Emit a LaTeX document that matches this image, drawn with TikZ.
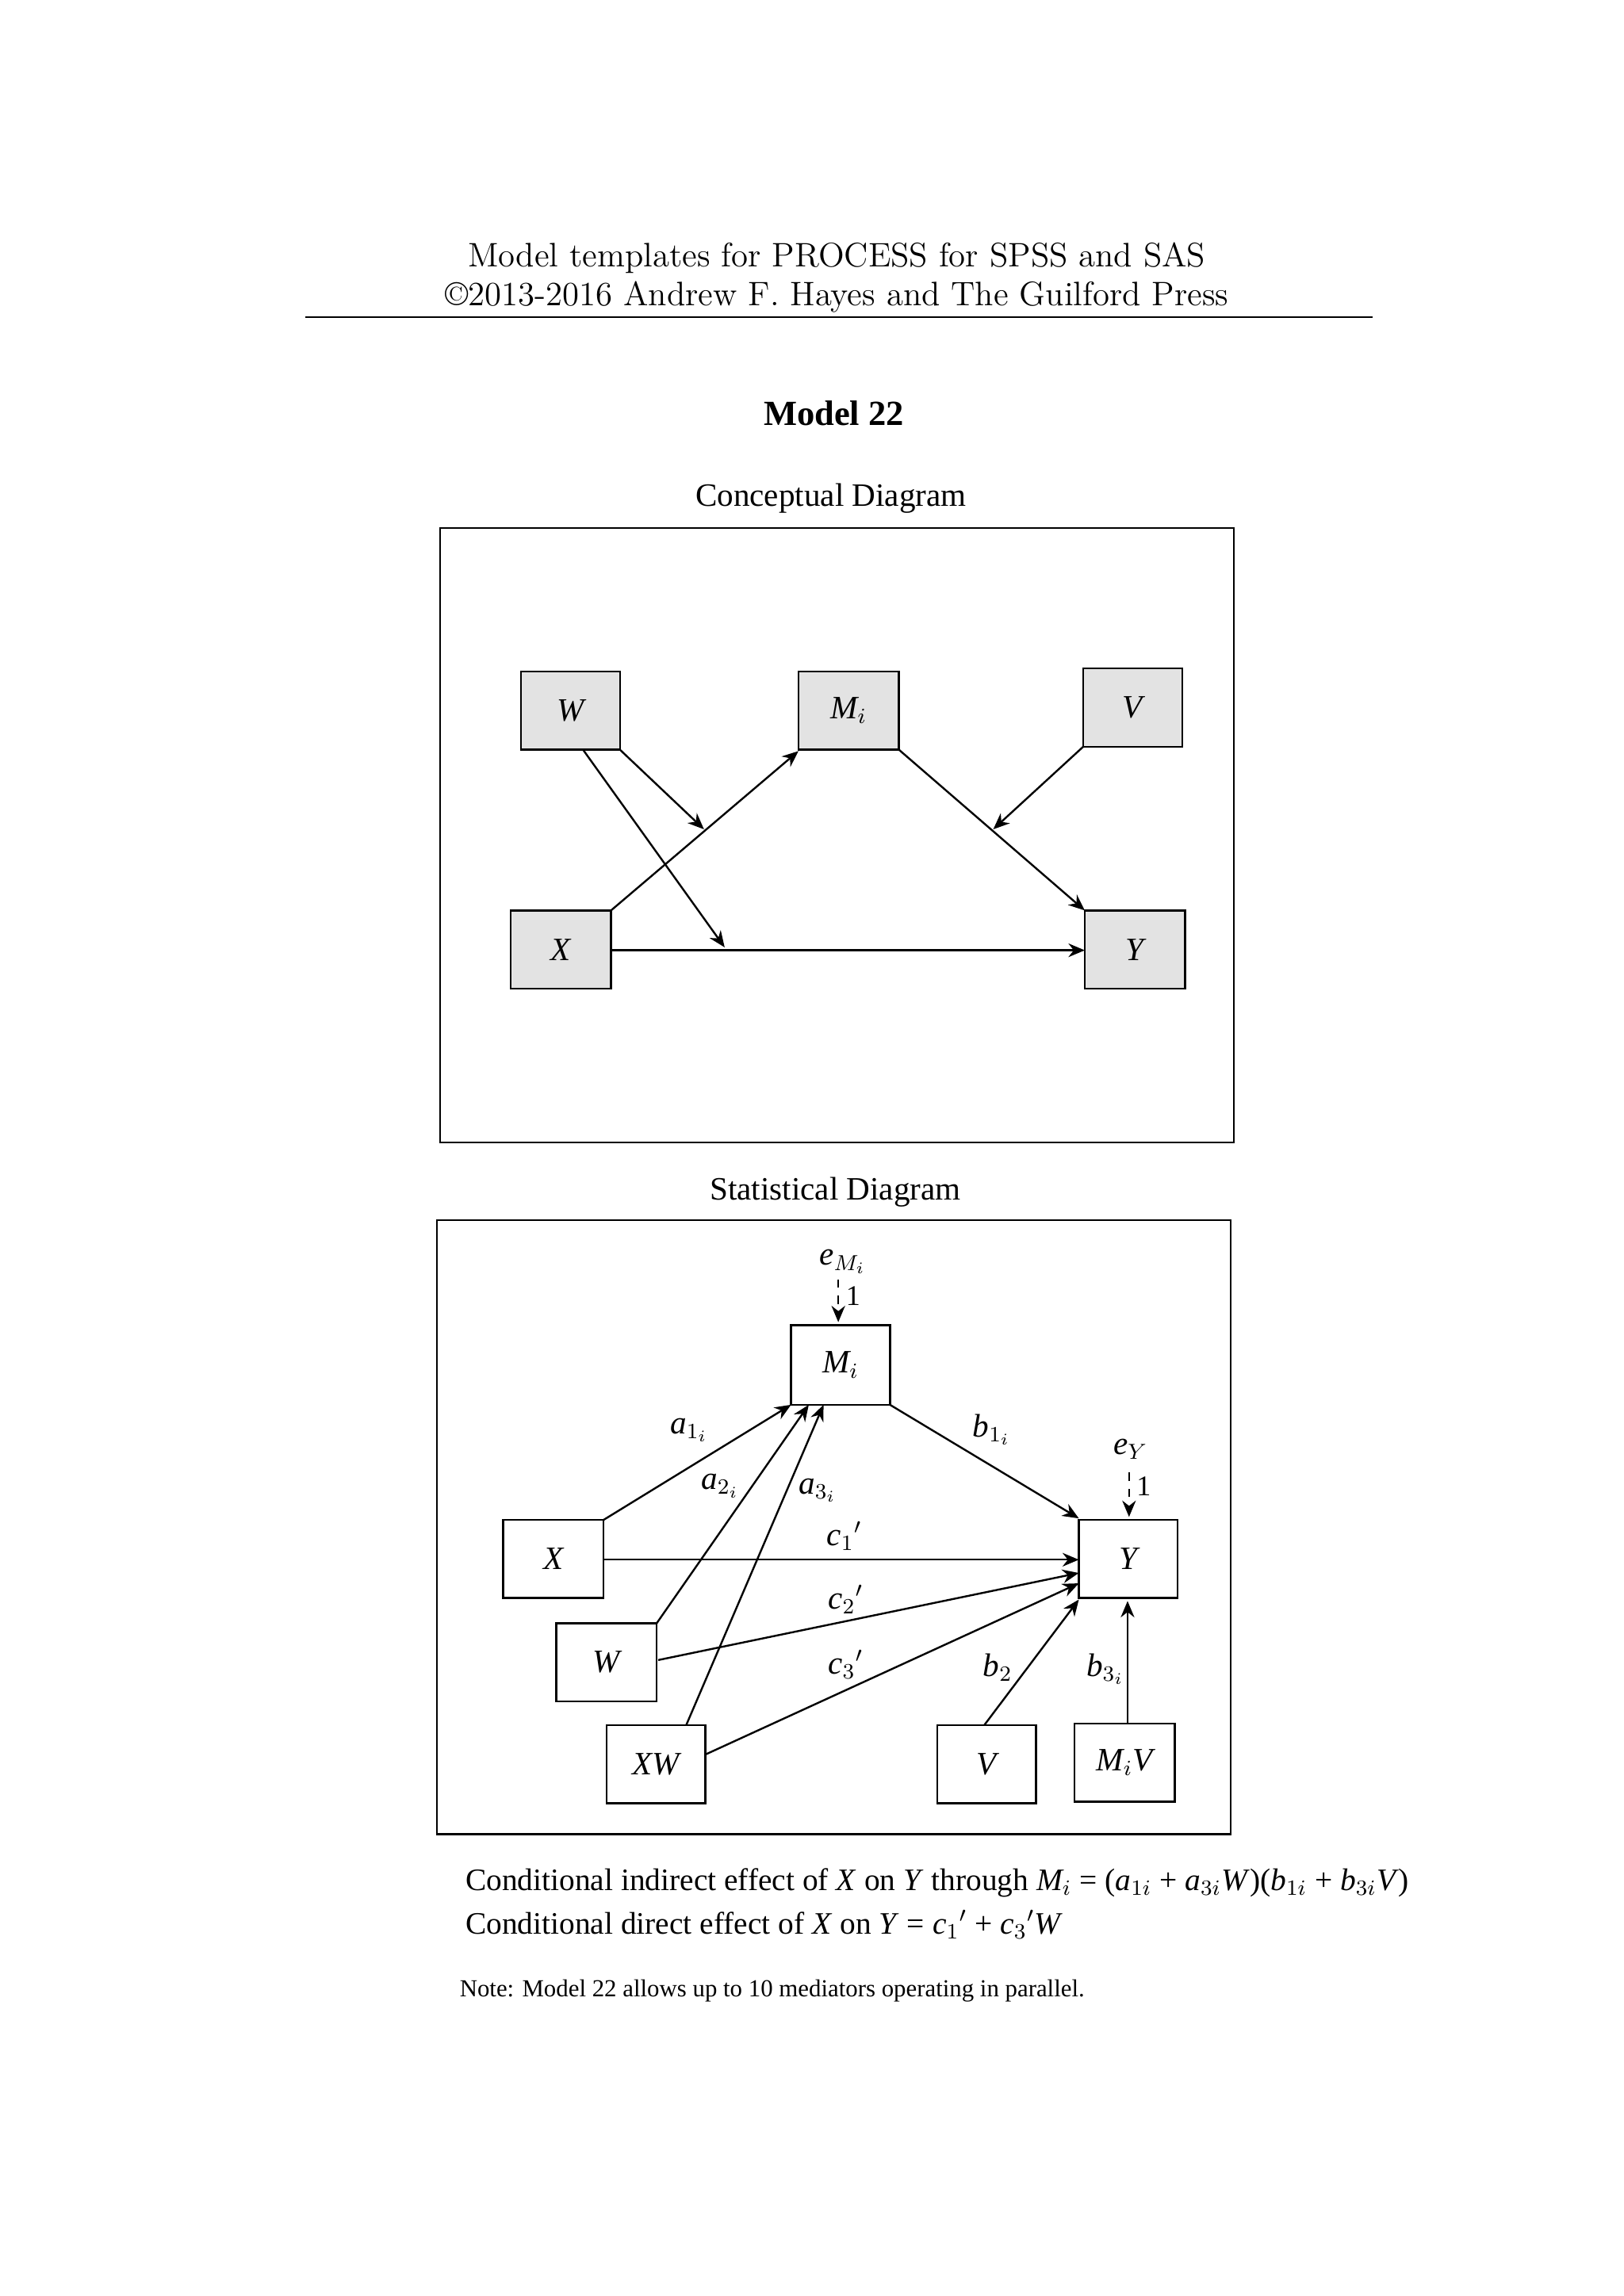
\documentclass[tikz,border=0pt]{standalone}
\usepackage{fontspec}
\setmainfont{Liberation Serif}
\newfontfamily\lmr{Latin Modern Roman}
\usetikzlibrary{arrows.meta}
\begin{document}
\begin{tikzpicture}[x=0.01909cm,y=-0.01909cm,
  box/.style={draw,line width=0.7pt,minimum width=67\pgflinewidth,inner sep=0pt},
  cb/.style={draw,line width=0.7pt,fill=black!11},
  ln/.style={line width=0.7pt},
  ar/.style={line width=0.7pt,-{Stealth[length=6pt,width=5pt]}},
  lab/.style={font=\fontsize{12}{14}\selectfont\itshape},
  sl/.style={font=\fontsize{10.5}{12}\selectfont}]
\useasboundingbox (0,0) rectangle (1100,1556);
% header
\node[font=\lmr\fontsize{12.5}{15}\selectfont] (h1) at (567,175) {Model templates for PROCESS for SPSS and SAS};
\node[font=\lmr\fontsize{12.5}{15}\selectfont] (h2) at (567,201) {\textcopyright2013-2016 Andrew F. Hayes and The Guilford Press};
\draw[line width=0.5pt] (207,215) -- (930,215);
\node[font=\fontsize{13}{15}\selectfont\bfseries] (t) at (565,280) {Model 22};
\node[font=\fontsize{12}{14}\selectfont] (cd) at (563,338) {Conceptual Diagram};
\node[font=\fontsize{12}{14}\selectfont] (sd) at (566,808) {Statistical Diagram};
% conceptual
\draw[line width=0.6pt] (298,358) rectangle (836,774);
\draw[cb] (353,455) rectangle (420,508); \node[lab] (cW) at (386.5,481.5) {W};
\draw[cb] (541,455) rectangle (609,508); \node[lab] (cM) at (575,481.5) {M$_i$};
\draw[cb] (734,453) rectangle (801,506); \node[lab] (cV) at (767.5,479.5) {V};
\draw[cb] (346,617) rectangle (414,670); \node[lab] (cX) at (380,643.5) {X};
\draw[cb] (735,617) rectangle (803,670); \node[lab] (cY) at (769,643.5) {Y};
\coordinate (xa) at (414,617); \coordinate (ma) at (541,509);
\coordinate (wa) at (420,508); \coordinate (wt) at (477,562);
\coordinate (wb) at (395,508); \coordinate (wbt) at (491,642);
\coordinate (va) at (734,506); \coordinate (vt) at (673,562);
\coordinate (mb) at (609,508); \coordinate (ya) at (735,617);
\coordinate (xb) at (414,644); \coordinate (yb) at (735,644);
\draw[ar] (xa) -- (ma);
\draw[ar] (wa) -- (wt);
\draw[ar] (wb) -- (wbt);
\draw[ar] (va) -- (vt);
\draw[ar] (mb) -- (ya);
\draw[ar] (xb) -- (yb);
% statistical
\draw[line width=0.6pt] (296,827) rectangle (834,1243);
\draw[ln] (536,898) rectangle (603,952); \node[lab] (sM) at (569.5,925) {M$_i$};
\draw[ln] (731,1030) rectangle (798,1083); \node[lab] (sY) at (764.5,1056.5) {Y};
\draw[ln] (341,1030) rectangle (409,1083); \node[lab] (sX) at (375,1056.5) {X};
\draw[ln] (377,1100) rectangle (445,1153); \node[lab] (sW) at (411,1126.5) {W};
\draw[ln] (411,1169) rectangle (478,1222); \node[lab] (sXW) at (444.5,1195.5) {XW};
\draw[ln] (635,1169) rectangle (702,1222); \node[lab] (sV) at (668.5,1195.5) {V};
\draw[ln] (728,1168) rectangle (796,1221); \node[lab] (sMV) at (762,1194.5) {M$_i$V};
\node[lab] (eM) at (571,855) {e$_{M_i}$};
\coordinate (eMa) at (568,867); \coordinate (eMb) at (568,896);
\draw[ar,dashed] (eMa) -- (eMb);
\node[sl] (o1) at (578,878) {1};
\node[lab] (eY) at (766,982) {e$_Y$};
\coordinate (eYa) at (765,998); \coordinate (eYb) at (765,1028);
\draw[ar,dashed] (eYa) -- (eYb);
\node[sl] (o2) at (775,1007) {1};
\coordinate (p1) at (409,1030); \coordinate (q1) at (536,952);
\coordinate (p2) at (445,1100); \coordinate (q2) at (548,952);
\coordinate (p3) at (465,1169); \coordinate (q3) at (558,952);
\coordinate (p4) at (603,952); \coordinate (q4) at (731,1029);
\coordinate (p5) at (409,1057); \coordinate (q5) at (731,1057);
\coordinate (p6) at (446,1125); \coordinate (q6) at (731,1066);
\coordinate (p7) at (478,1189); \coordinate (q7) at (731,1073);
\coordinate (p8) at (667,1169); \coordinate (q8) at (731,1084);
\coordinate (p9) at (764,1168); \coordinate (q9) at (764,1085);
\foreach \i in {1,...,9} {\draw[ar] (p\i) -- (q\i);}
\node[lab] (la1) at (467,969) {a$_{1_i}$};
\node[lab] (la2) at (488,1007) {a$_{2_i}$};
\node[lab] (la3) at (554,1010) {a$_{3_i}$};
\node[lab] (lb1) at (672,969) {b$_{1_i}$};
\node[lab] (lc1) at (572,1041) {c$_1$$'$};
\node[lab] (lc2) at (573,1084) {c$_2$$'$};
\node[lab] (lc3) at (573,1128) {c$_3$$'$};
\node[lab] (lb2) at (676,1130) {b$_2$};
\node[lab] (lb3) at (749,1131) {b$_{3_i}$};
% equations
\node[anchor=west,font=\fontsize{11.5}{14}\selectfont] (e1) at (309,1276) {Conditional indirect effect of \textit{X} on \textit{Y} through \textit{M$_i$} = (\textit{a$_{1i}$} + \textit{a$_{3i}$W})(\textit{b$_{1i}$} + \textit{b$_{3i}$V})};
\node[anchor=west,font=\fontsize{11.5}{14}\selectfont] (e2) at (309,1304) {Conditional direct effect of \textit{X} on \textit{Y} = \textit{c$_1$$'$} + \textit{c$_3$$'$W}};
\node[anchor=west,font=\fontsize{9}{11}\selectfont] (n) at (305,1349) {Note: Model 22 allows up to 10 mediators operating in parallel.};
\end{tikzpicture}
\end{document}
